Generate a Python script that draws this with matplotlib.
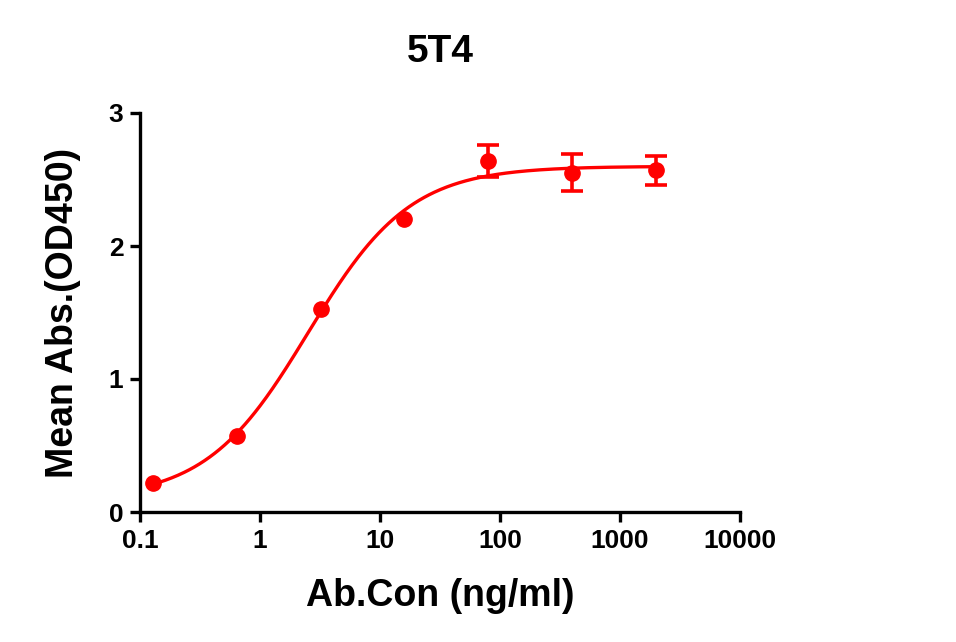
import numpy as np
import matplotlib
matplotlib.use("Agg")
import matplotlib.pyplot as plt
from matplotlib.ticker import FixedLocator, NullLocator

plt.rcParams['font.family'] = ['Liberation Sans', 'DejaVu Sans']
plt.rcParams['font.weight'] = 'bold'

# data
conc = [0.128, 0.64, 3.2, 16, 80, 400, 2000]          # ng/ml
mean_abs = [0.22, 0.57, 1.53, 2.20, 2.64, 2.55, 2.57]
err = [0.0, 0.0, 0.0, 0.0, 0.12, 0.14, 0.11]
x_ticks = [0.1, 1, 10, 100, 1000, 10000]
x_tick_labels = ["0.1", "1", "10", "100", "1000", "10000"]
y_ticks = [0, 1, 2, 3]

red = "#ff0000"


def four_pl_fit(x, y):
    # grid over EC50 and hill slope, bottom/top solved by least squares
    x = np.asarray(x, float)
    y = np.asarray(y, float)
    best = None
    for logc in np.linspace(-1, 2, 301):
        for h in np.linspace(0.5, 2.5, 201):
            f = 1.0 / (1.0 + (10 ** logc / x) ** h)
            A = np.column_stack([1 - f, f])
            coef, *_ = np.linalg.lstsq(A, y, rcond=None)
            r = np.sum((A @ coef - y) ** 2)
            if best is None or r < best[0]:
                best = (r, coef[0], coef[1], 10 ** logc, h)
    return best[1:]


bottom, top, ec50, hill = four_pl_fit(conc, mean_abs)
xs = np.logspace(np.log10(conc[0]), np.log10(conc[-1]), 400)
ys = bottom + (top - bottom) / (1 + (ec50 / xs) ** hill)

fig = plt.figure(figsize=(9.56, 6.42), dpi=100)
ax = fig.add_axes([140 / 956, 1 - 512 / 642, 600 / 956, 399 / 642])

ax.plot(xs, ys, color=red, lw=2.4, zorder=2)
ax.plot(conc, mean_abs, 'o', color=red, ms=11, zorder=3)
# error bars only where there is a spread
with_err = [i for i, e in enumerate(err) if e > 0]
ax.errorbar([conc[i] for i in with_err], [mean_abs[i] for i in with_err],
            yerr=[err[i] for i in with_err], fmt='none', ecolor=red,
            elinewidth=2.6, capsize=8, capthick=2.6, zorder=3)

ax.set_xscale('log')
ax.set_xlim(0.1, 10000)
ax.set_ylim(0, 3)
ax.xaxis.set_major_locator(FixedLocator(x_ticks))
ax.xaxis.set_minor_locator(NullLocator())
ax.set_xticklabels(x_tick_labels)
ax.set_yticks(y_ticks)

for side in ['top', 'right']:
    ax.spines[side].set_visible(False)
for side in ['left', 'bottom']:
    ax.spines[side].set_linewidth(2.4)
ax.tick_params(axis='both', direction='out', length=7, width=2.4,
               labelsize=19, pad=5)
for lab in ax.get_xticklabels() + ax.get_yticklabels():
    lab.set_fontweight('bold')

ax.set_xlabel("Ab.Con (ng/ml)", fontsize=27, fontweight='bold', labelpad=18)
ax.set_ylabel("Mean Abs.(OD450)", fontsize=27, fontweight='bold', labelpad=20)
ax.set_title("5T4", fontsize=28, fontweight='bold', pad=37)

fig.savefig("out.png", dpi=100)
